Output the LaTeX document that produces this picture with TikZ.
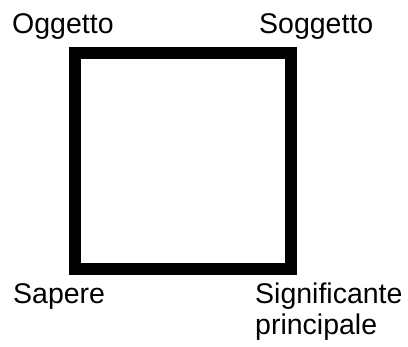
\documentclass[tikz,border=0pt]{standalone}
\usepackage{fontspec}
\setmainfont{Liberation Sans}
\usetikzlibrary{positioning}
\tikzset{
    corner/.style={anchor=base west, inner sep=0pt, align=left, font=\fontsize{28.5}{31}\selectfont},
    frame/.style={draw, line width=12pt, miter limit=10}
}

\begin{document}
\begin{tikzpicture}[x=1pt, y=-1pt]
    \useasboundingbox (0,0) rectangle (408,347);
    % the square
    \draw[frame] (75,53) rectangle (291,269);

    % labels
    \node[corner] (ogg) at (12,34) {Oggetto};
    \node[corner] (sog) at (259,34) {Soggetto};
    \node[corner] (sap) at (13,304) {Sapere};
    \node[corner] (sig) at (255,335) {Significante\\principale};
\end{tikzpicture}
\end{document}
